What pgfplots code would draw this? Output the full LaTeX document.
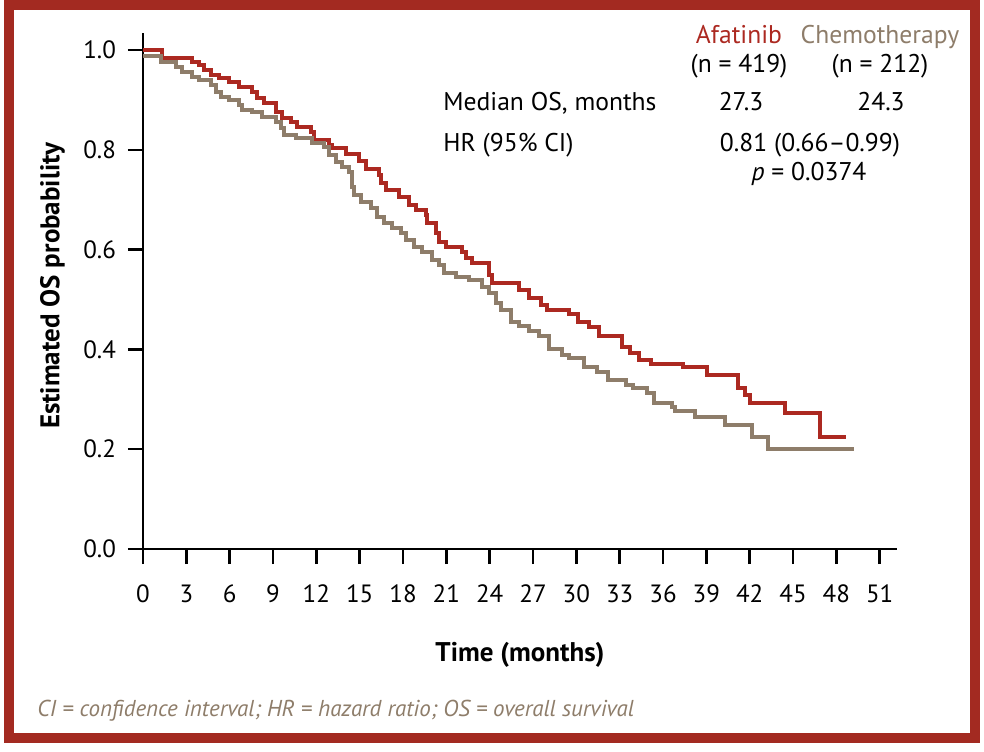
\documentclass[border=0pt]{standalone}
\usepackage{fontspec}
\setmainfont{PT Sans}
\usepackage{pgfplots}
\pgfplotsset{compat=1.18}

\definecolor{afared}{RGB}{172,41,33}
\definecolor{chemotan}{RGB}{142,125,106}
\definecolor{framered}{RGB}{163,42,33}

\begin{document}
\begin{tikzpicture}
  % page = 984 x 751 px at 0.5pt per px
  \begin{scope}[x=0.5pt,y=-0.5pt]
    \useasboundingbox (0,0) rectangle (984,751);
  \end{scope}

  \begin{axis}[
    at={(71.5pt,-274.5pt)}, anchor=south west,
    scale only axis, width=377pt, height=258pt,
    xmin=0, xmax=52.2, ymin=0, ymax=1.034,
    axis lines*=left,
    axis line style={line width=1.2pt},
    tick align=outside, major tick length=7.5pt,
    tick style={line width=1.2pt, black},
    xtick={0,3,6,9,12,15,18,21,24,27,30,33,36,39,42,45,48,51},
    ytick={0,0.2,0.4,0.6,0.8,1.0},
    yticklabel style={/pgf/number format/.cd, fixed, fixed zerofill, precision=1},
    /pgf/number format/assume math mode=true,
    tick label style={font=\fontsize{12.5}{14}\selectfont},
    xticklabel shift=7pt, yticklabel shift=2.5pt,
    xlabel={\textbf{Time (months)}},
    ylabel={\textbf{Estimated OS probability}},
    label style={font=\fontsize{13.5}{15}\selectfont},
    xlabel style={at={(axis description cs:0.5,-0.205)}, anchor=center},
    ylabel style={at={(axis description cs:-0.12,0.51)}, anchor=center},
    clip=false,
  ]
    % Afatinib (n = 419)
    \addplot[const plot, afared, line width=2pt] coordinates {
      (0,1.000)(1.32,0.984)(3.40,0.976)(3.88,0.970)(4.23,0.960)(4.71,0.950)
      (5.27,0.944)(5.96,0.936)(6.65,0.926)(7.55,0.916)(7.90,0.904)(8.39,0.894)
      (9.22,0.876)(9.63,0.864)(10.26,0.856)(10.67,0.846)(11.64,0.836)(11.85,0.820)
      (12.89,0.810)(13.10,0.804)(14.07,0.792)(14.97,0.778)(15.45,0.762)(16.35,0.750)
      (16.49,0.733)(16.84,0.720)(17.74,0.705)(18.43,0.689)(18.92,0.680)(19.61,0.670)
      (19.68,0.653)(20.30,0.633)(20.51,0.615)(21.00,0.605)(22.11,0.595)(22.38,0.583)
      (22.80,0.573)(23.98,0.549)(24.19,0.533)(26.06,0.519)(26.75,0.503)(27.58,0.489)
      (28.00,0.479)(29.52,0.471)(30.08,0.455)(30.91,0.445)(31.60,0.427)(33.19,0.405)
      (33.68,0.393)(34.37,0.379)(35.20,0.371)(37.35,0.365)(39.02,0.349)(41.16,0.323)
      (41.65,0.309)(42.00,0.293)(44.42,0.273)(46.85,0.224)(48.65,0.224)
    };
    % Chemotherapy (n = 212)
    \addplot[const plot, chemotan, line width=2pt] coordinates {
      (0,0.988)(1.25,0.976)(2.29,0.966)(2.70,0.956)(3.40,0.946)(3.88,0.940)
      (4.71,0.930)(5.06,0.916)(5.41,0.906)(5.96,0.900)(6.65,0.890)(6.86,0.880)
      (7.55,0.876)(8.25,0.866)(9.22,0.856)(9.56,0.844)(9.77,0.830)(10.60,0.824)
      (11.71,0.814)(12.54,0.806)(12.89,0.790)(13.37,0.776)(13.79,0.766)(14.28,0.756)
      (14.48,0.725)(14.62,0.709)(15.11,0.695)(15.80,0.683)(16.22,0.665)(16.70,0.653)
      (17.26,0.643)(17.88,0.633)(18.23,0.619)(18.78,0.605)(19.33,0.595)(20.03,0.579)
      (20.51,0.569)(20.86,0.553)(21.69,0.545)(22.59,0.539)(23.49,0.525)(23.98,0.513)
      (24.46,0.493)(24.81,0.479)(25.50,0.455)(26.06,0.447)(26.75,0.437)(27.44,0.427)
      (28.14,0.401)(29.04,0.389)(29.52,0.383)(30.56,0.365)(31.46,0.355)(32.16,0.339)
      (33.47,0.329)(33.89,0.323)(34.86,0.313)(35.41,0.293)(36.59,0.285)(36.80,0.277)
      (38.18,0.265)(40.26,0.248)(42.13,0.224)(43.24,0.200)(49.20,0.200)
    };
  \end{axis}

  \begin{scope}[x=0.5pt,y=-0.5pt, every node/.style={inner sep=0pt, font=\fontsize{12.8}{15}\selectfont}]
    \node[anchor=base, text=afared] at (739,43) {Afatinib};
    \node[anchor=base, text=chemotan] at (880,43) {Chemotherapy};
    \node[anchor=base] at (739,72) {(n = 419)};
    \node[anchor=base] at (880,72) {(n = 212)};
    \node[anchor=base west] at (443,110) {Median OS, months};
    \node[anchor=base] at (741,110) {27.3};
    \node[anchor=base] at (881,110) {24.3};
    \node[anchor=base west] at (443,151) {HR (95\% CI)};
    \node[anchor=base] at (810,151) {0.81 (0.66–0.99)};
    \node[anchor=base] at (809,180) {\textit{p} = 0.0374};
    \node[anchor=base west, text=chemotan, font=\fontsize{11.5}{13}\itshape] at (37,716)
      {CI = confidence interval; HR = hazard ratio; OS = overall survival};
    \draw[framered, line width=5pt] (9,5) rectangle (975,738);
  \end{scope}
\end{tikzpicture}
\end{document}
